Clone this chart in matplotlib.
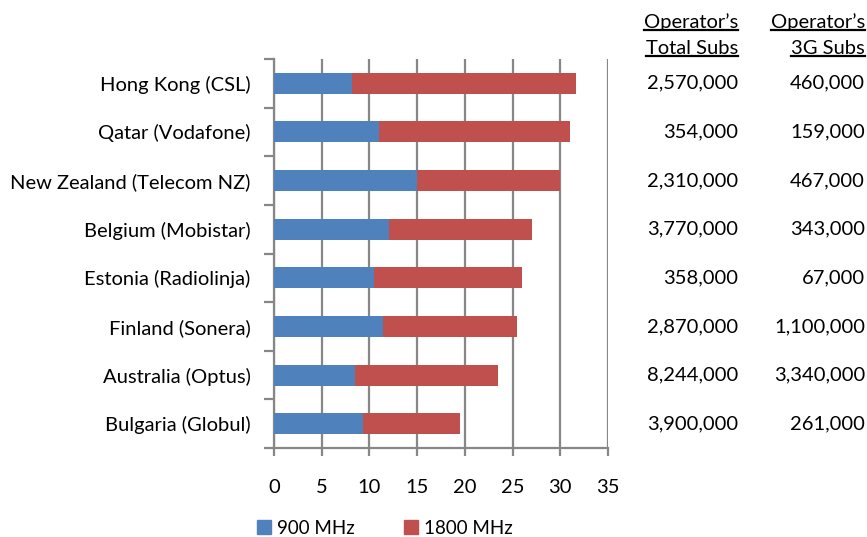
import matplotlib
matplotlib.use("Agg")
import matplotlib.pyplot as plt
from matplotlib.lines import Line2D
from matplotlib.patches import Patch

plt.rcParams['font.family'] = ['Lato', 'DejaVu Sans']

# data (bottom to top as drawn)
operators = ['Hong Kong (CSL)', 'Qatar (Vodafone)', 'New Zealand (Telecom NZ)',
             'Belgium (Mobistar)', 'Estonia (Radiolinja)', 'Finland (Sonera)',
             'Australia (Optus)', 'Bulgaria (Globul)']
mhz900 = [8.2, 11.0, 15.0, 12.0, 10.5, 11.4, 8.5, 9.3]
mhz1800 = [23.4, 20.0, 15.0, 15.0, 15.5, 14.1, 15.0, 10.2]
total_subs = ['2,570,000', '354,000', '2,310,000', '3,770,000', '358,000',
              '2,870,000', '8,244,000', '3,900,000']
subs_3g = ['460,000', '159,000', '467,000', '343,000', '67,000',
           '1,100,000', '3,340,000', '261,000']

blue = '#4F81BD'
red = '#C0504D'
grey = '#878787'
fs = 14.5

fig = plt.figure(figsize=(8.67, 5.37), dpi=100)
ax = fig.add_axes([274 / 867, 1 - 448 / 537, (608 - 274) / 867, (448 - 59) / 537])

ypos = list(range(len(operators)))[::-1]
ax.barh(ypos, mhz900, height=0.43, color=blue, zorder=3)
ax.barh(ypos, mhz1800, left=mhz900, height=0.43, color=red, zorder=3)

ax.set_xlim(0, 35)
ax.set_ylim(-0.5, len(operators) - 0.5)
ax.set_xticks(range(0, 36, 5))
ax.xaxis.grid(True, color=grey, linewidth=1.6, zorder=0)
ax.set_yticks([i + 0.5 for i in range(-1, len(operators))])
ax.set_yticklabels([])
ax.set_yticks(ypos, minor=True)
ax.set_yticklabels(operators, minor=True, fontsize=fs)
ax.tick_params(axis='y', which='minor', length=0, pad=17)
ax.tick_params(axis='y', which='major', length=7, width=1.6, color=grey)
ax.tick_params(axis='x', length=6, width=1.6, color=grey, labelsize=fs, pad=16)
for s in ['top', 'right']:
    ax.spines[s].set_visible(False)
for s in ['left', 'bottom']:
    ax.spines[s].set_color(grey)
    ax.spines[s].set_linewidth(1.6)

# side table
col1_x = 738 / 867
col2_x = 865 / 867
fig.canvas.draw()
renderer = fig.canvas.get_renderer()
headers = [(col1_x, ["Operator\u2019s", "Total Subs"]),
           (col2_x, ["Operator\u2019s", "3G Subs"])]
for x, lines in headers:
    for y, t in zip([1 - 22 / 537, 1 - 48 / 537], lines):
        txt = fig.text(x, y, t, ha='right', va='center', fontsize=fs)
        bb = txt.get_window_extent(renderer).transformed(fig.transFigure.inverted())
        fig.add_artist(Line2D([bb.x0, bb.x1], [bb.y0 + 0.001, bb.y0 + 0.001],
                              color='black', linewidth=1.6, transform=fig.transFigure))

for yp, t1, t2 in zip(ypos, total_subs, subs_3g):
    _, yfig = fig.transFigure.inverted().transform(ax.transData.transform((0, yp)))
    fig.text(col1_x, yfig, t1, ha='right', va='center', fontsize=fs)
    fig.text(col2_x, yfig, t2, ha='right', va='center', fontsize=fs)

handles = [Patch(color=blue, label='900 MHz'), Patch(color=red, label='1800 MHz')]
fig.legend(handles=handles, loc='center', bbox_to_anchor=(385 / 867, 1 - 528 / 537),
           ncol=2, frameon=False, fontsize=13.5, handlelength=0.75, handleheight=0.75,
           columnspacing=2.6, handletextpad=0.35)

fig.savefig('out.png', dpi=100)
